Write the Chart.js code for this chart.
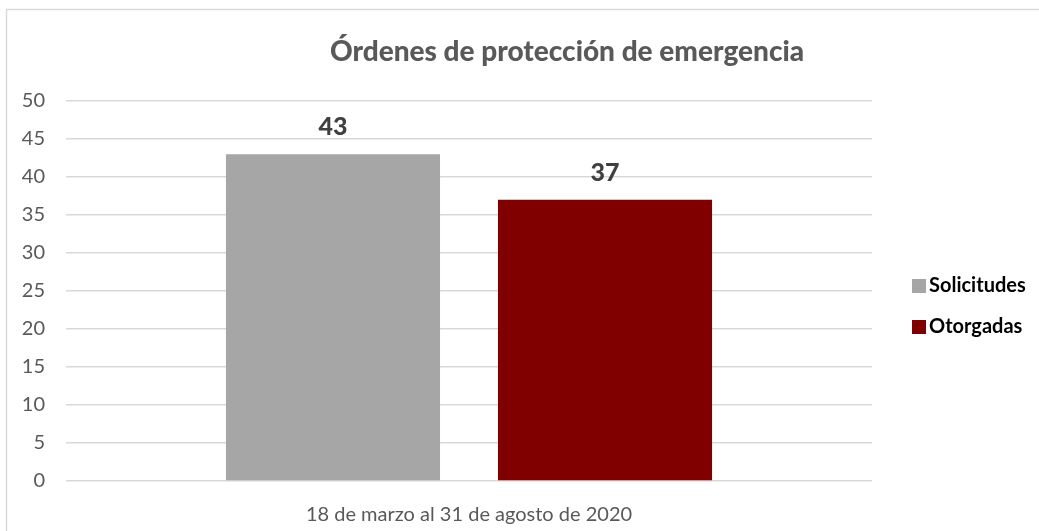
<!DOCTYPE html>
<html>
<head>
<meta charset="utf-8">
<script src="https://cdn.jsdelivr.net/npm/chart.js@4/dist/chart.umd.min.js"></script>
<style>
  html, body { margin: 0; padding: 0; background: #fff; }
  #wrap { width: 1039px; height: 531px; position: relative; }
</style>
</head>
<body>
<div id="wrap"><canvas id="myChart" width="1039" height="531"></canvas></div>
<script>
// Chart data
const chartTitle = 'Órdenes de protección de emergencia';
const categories = ['18 de marzo al 31 de agosto de 2020'];
const seriesNames = ['Solicitudes', 'Otorgadas'];
const solicitudes = [43];
const otorgadas = [37];
const seriesColors = ['#A6A6A6', '#800000'];
const yTicks = [0, 5, 10, 15, 20, 25, 30, 35, 40, 45, 50];

const FONT = 'Lato, "Open Sans", sans-serif';

// frame + title, drawn behind everything
const framePlugin = {
  id: 'frame',
  beforeDraw(chart) {
    const ctx = chart.ctx;
    ctx.save();
    ctx.fillStyle = '#ffffff';
    ctx.fillRect(0, 0, chart.width, chart.height);
    ctx.strokeStyle = '#d9d9d9';
    ctx.lineWidth = 1.5;
    ctx.strokeRect(6.5, 9.5, 1060, 560);
    ctx.fillStyle = '#595959';
    ctx.font = '900 28px ' + FONT;
    ctx.textAlign = 'center';
    ctx.textBaseline = 'middle';
    ctx.fillText(chartTitle, 567, 52);
    ctx.restore();
  }
};

// value labels above bars
const valueLabels = {
  id: 'valueLabels',
  afterDatasetsDraw(chart) {
    const ctx = chart.ctx;
    ctx.save();
    ctx.fillStyle = '#404040';
    ctx.font = '900 25px ' + FONT;
    ctx.textAlign = 'center';
    ctx.textBaseline = 'middle';
    chart.data.datasets.forEach((ds, i) => {
      chart.getDatasetMeta(i).data.forEach((bar, j) => {
        ctx.fillText(String(ds.data[j]), bar.x, bar.y - 27);
      });
    });
    ctx.restore();
  }
};

// legend on the right
const sideLegend = {
  id: 'sideLegend',
  afterDraw(chart) {
    const ctx = chart.ctx;
    ctx.save();
    ctx.font = 'bold 20px ' + FONT;
    ctx.textBaseline = 'middle';
    const ys = [286, 327];
    chart.data.datasets.forEach((ds, i) => {
      ctx.fillStyle = ds.backgroundColor;
      ctx.fillRect(912, ys[i] - 7, 14, 14);
      ctx.fillStyle = '#000000';
      ctx.fillText(ds.label, 929, ys[i]);
    });
    ctx.restore();
  }
};

const ctx = document.getElementById('myChart').getContext('2d');
const chart = new Chart(ctx, {
  type: 'bar',
  data: {
    labels: categories,
    datasets: [
      { label: seriesNames[0], data: solicitudes, backgroundColor: seriesColors[0] },
      { label: seriesNames[1], data: otorgadas, backgroundColor: seriesColors[1] }
    ]
  },
  options: {
    responsive: false,
    animation: false,
    categoryPercentage: 0.675,
    barPercentage: 0.787,
    layout: { padding: { top: 101, right: 167, bottom: 0, left: 0 } },
    plugins: {
      legend: { display: false },
      title: { display: false },
      tooltip: { enabled: false }
    },
    scales: {
      x: {
        grid: { display: false },
        border: { display: false },
        ticks: { color: '#595959', font: { family: FONT, size: 20 }, padding: 14 },
        afterFit(scale) { scale.height = 50; }
      },
      y: {
        min: 0,
        max: 50,
        afterBuildTicks(scale) { scale.ticks = yTicks.map(v => ({ value: v })); },
        grid: { color: '#d9d9d9', lineWidth: 1.5, drawTicks: false },
        border: { display: false },
        ticks: { color: '#595959', font: { family: FONT, size: 20 }, padding: 21 },
        afterFit(scale) { scale.width = 66; }
      }
    }
  },
  plugins: [framePlugin, valueLabels, sideLegend]
});
</script>
</body>
</html>
